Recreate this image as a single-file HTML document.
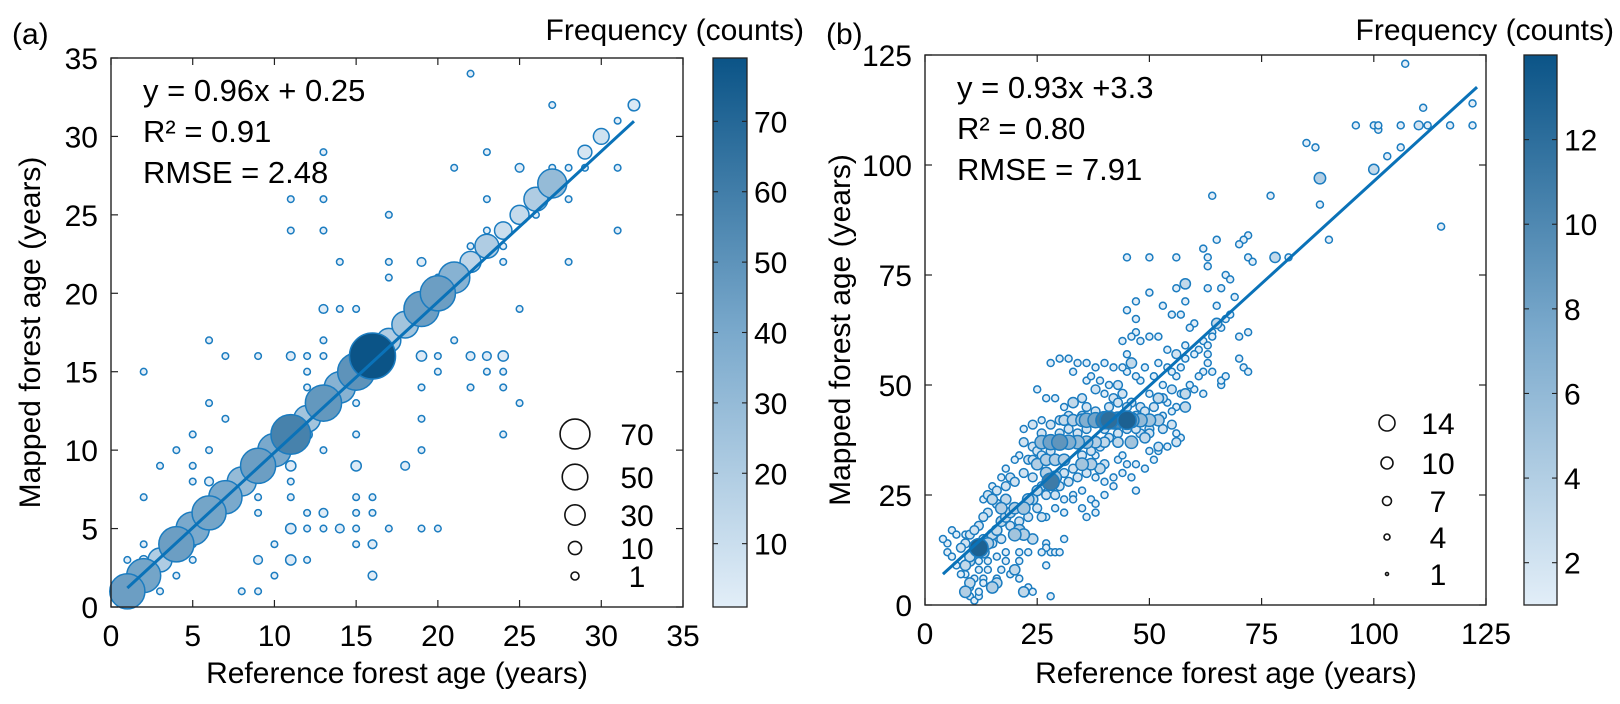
<!DOCTYPE html>
<html><head><meta charset="utf-8"><style>
body{margin:0;background:#fff}
svg{display:block;font-family:"Liberation Sans",Arial,sans-serif}
</style></head><body>
<svg id="fig" width="1620" height="704" viewBox="0 0 1620 704" xmlns="http://www.w3.org/2000/svg">
<defs>
<linearGradient id="cmap" x1="0" y1="1" x2="0" y2="0">
<stop offset="0" stop-color="#e2eef8"/><stop offset="0.5" stop-color="#7aa9cc"/><stop offset="1" stop-color="#0b5487"/>
</linearGradient>
</defs>
<text x="12" y="44" font-size="30">(a)</text>
<text x="826" y="44" font-size="30">(b)</text>
</svg>
<script>
// ---------- Panel (a) data ----------
const aDiagX=[1,2,3,4,5,6,7,8,9,10,11,12,13,14,15,16,17,18,19,20,21,22,23,24,25,26,27,29,30,32];
const aDiagY=[1,2,3,4,5,6,7,8,9,10,11,12,13,14,15,16,17,18,19,20,21,22,23,24,25,26,27,29,30,32];
const aDiagC=[45,42,20,45,40,42,40,30,45,40,58,25,48,35,50,79,20,25,45,45,35,15,20,10,12,20,30,6,8,4];
const aPtsX=[22,27,23,13,21,25,27,28,29,31,11,13,23,28,17,26,11,13,23,31,14,17,19,24,28,22,24,17,20,13,14,15,25,6,13,21,16,2,12,20,23,24,7,9,11,12,13,19,20,22,23,24,12,19,22,24,6,15,25,7,19,11,5,15,24,12,4,6,13,19,3,5,11,15,18,5,6,11,2,9,11,15,16,9,12,13,15,16,11,12,13,14,15,17,19,20,2,5,10,15,16,1,2,5,9,11,12,4,10,16,3,8,9,31];
const aPtsY=[34,32,29,29,28,28,28,28,28,28,26,26,26,26,25,25,24,24,24,24,22,22,22,22,22,23,23,21,21,19,19,19,19,17,17,17,17,15,15,15,15,15,16,16,16,16,16,16,16,16,16,16,14,14,14,14,13,13,13,12,12,12,11,11,11,11,10,10,10,10,9,9,9,9,9,8,8,8,7,7,7,7,7,6,6,6,6,6,5,5,5,5,5,5,5,5,4,4,4,4,4,3,3,3,3,3,3,2,2,2,1,1,1,31];
const aPtsC=[1,1,1,1,1,2,1,1,1,1,1,1,1,1,1,1,1,1,1,1,1,1,2,1,1,1,1,1,1,2,1,1,1,1,1,1,1,1,1,1,1,1,1,1,2,1,1,3,1,2,2,3,1,1,1,1,1,1,1,1,1,1,1,1,1,3,1,1,1,1,1,1,3,3,2,1,2,1,1,1,1,1,1,1,1,2,1,1,3,1,1,2,1,1,1,1,1,1,1,1,2,1,2,1,2,3,1,1,1,2,1,1,1,1];
const aLegVals=[70,50,30,10,1];
const aXTicks=[0,5,10,15,20,25,30,35];
const aYTicks=[0,5,10,15,20,25,30,35];
const aCbTicks=[10,20,30,40,50,60,70];
const aFit=[0.96,0.25,1,32];
// ---------- Panel (b) data ----------
const bPts=[[107,123,1],[111,113,1],[122,114,1],[96,109,1],[100,109,1],[101,108,1],[101,109,1],[106,109,1],[110,109,2],[112,109,1],[117,109,1],[122,109,1],[85,105,1],[87,104,1],[106,104,1],[103,102,1],[100,99,3],[88,97,4],[64,93,1],[77,93,1],[88,91,1],[115,86,1],[90,83,1],[78,79,3],[81,79,1],[72,84,1],[71,83,1],[70,82,1],[65,83,1],[62,81,1],[63,79,1],[63,77,1],[72,79,1],[73,78,1],[45,79,1],[50,79,1],[56,79,1],[53,68,1],[56,72,1],[58,73,3],[58,69,1],[63,72,1],[66,72,1],[67,75,1],[68,74,1],[65,68,1],[69,70,1],[65,64,3],[66,63,1],[67,65,1],[68,66,1],[64,62,1],[60,64,1],[62,60,1],[63,59,1],[64,61,1],[61,58,1],[63,57,1],[60,57,1],[58,56,1],[56,52,1],[54,54,1],[55,53,1],[57,54,1],[53,50,1],[58,48,3],[58,45,3],[56,45,1],[54,46,1],[52,47,3],[50,48,1],[48,51,1],[46,55,3],[45,57,1],[47,62,1],[48,60,1],[50,61,1],[52,61,1],[54,58,1],[52,55,1],[51,52,1],[49,54,1],[47,52,1],[45,53,1],[44,60,1],[46,61,1],[45,67,1],[47,65,1],[47,69,1],[50,71,1],[55,66,1],[57,66,1],[59,63,1],[62,53,1],[64,53,1],[66,50,1],[66,51,1],[70,56,1],[71,54,1],[72,62,1],[70,61,1],[67,52,1],[72,53,1],[62,48,1],[60,49,1],[55,44,1],[53,43,1],[52,42,4],[50,42,5],[48,42,6],[46,42,8],[45,42,13],[43,42,10],[41,42,12],[40,42,11],[38,42,8],[36,42,7],[35,42,5],[33,42,4],[31,42,3],[26,37,6],[28,37,8],[30,37,9],[32,37,7],[34,37,6],[36,37,5],[38,37,4],[40,37,3],[43,37,3],[46,37,5],[49,38,3],[52,36,2],[56,37,2],[28,28,11],[29,29,5],[27,30,4],[25,32,4],[27,33,4],[29,33,4],[31,33,4],[35,32,5],[37,32,4],[39,31,3],[12,13,13],[13,12,4],[11,12,3],[10,10,3],[9,9,3],[10,11,3],[14,14,4],[15,16,3],[16,17,3],[17,19,3],[18,20,3],[19,21,3],[20,22,4],[22,22,5],[23,24,4],[24,24,3],[25,26,3],[21,17,4],[20,16,5],[22,16,4],[24,15,3],[17,22,4],[18,24,3],[15,24,3],[16,23,2],[14,21,2],[12,18,2],[13,20,2],[10,16,2],[11,17,2],[9,14,2],[8,13,2],[5,14,1],[4,15,1],[6,17,1],[7,16,1],[9,16,1],[10,5,3],[9,3,4],[10,2,1],[11,1,1],[12,2,1],[10,4,1],[12,3,1],[13,6,1],[15,4,4],[16,5,3],[16,6,1],[14,8,1],[12,8,1],[18,10,1],[20,8,3],[21,10,1],[21,12,1],[23,12,1],[22,3,3],[23,4,1],[24,3,1],[27,14,1],[28,12,1],[29,12,1],[30,12,1],[27,13,1],[28,2,1],[31,15,1],[26,20,2],[27,20,1],[29,22,1],[31,21,1],[33,25,1],[35,22,1],[38,21,1],[37,24,1],[40,28,1],[42,29,1],[44,30,1],[45,32,1],[40,32,2],[38,34,1],[47,32,1],[47,26,1],[43,33,1],[44,34,1],[50,35,1],[52,35,1],[48,39,2],[47,40,2],[50,40,2],[48,45,2],[46,46,2],[44,48,2],[42,47,2],[40,48,1],[38,49,2],[36,51,1],[33,53,1],[33,46,3],[35,47,2],[31,45,1],[29,47,1],[27,47,1],[25,49,1],[28,55,1],[30,56,1],[32,56,1],[34,55,1],[36,55,1],[38,54,1],[40,55,1],[42,54,1],[44,54,1],[37,52,1],[39,51,1],[41,50,1],[43,50,2],[36,45,2],[38,44,2],[41,45,2],[43,46,2],[45,45,2],[35,43,2],[32,43,2],[30,42,2],[28,41,2],[26,42,1],[24,41,2],[22,40,1],[26,39,2],[22,37,2],[24,36,2],[21,34,1],[23,33,2],[25,35,2],[20,33,1],[18,31,1],[19,29,2],[17,29,1],[15,27,1],[14,25,2],[13,24,1],[16,26,2],[18,27,2],[20,28,2],[22,30,2],[24,29,2],[26,27,2],[30,27,2],[32,28,2],[34,29,2],[36,30,2],[38,29,1],[35,26,1],[33,24,1],[31,24,1],[29,25,2],[27,25,2],[25,22,2],[23,20,2],[21,19,2],[19,18,2],[17,15,2],[15,14,2],[13,15,2],[12,10,1],[14,10,1],[16,11,1],[18,12,1],[11,6,1],[9,7,1],[13,5,1],[17,8,1],[19,7,1],[21,6,1],[26,12,1],[27,9,1],[7,9,1],[8,7,1],[5,12,1],[6,11,1],[31,30,2],[33,31,2],[35,34,2],[37,35,2],[39,36,2],[41,38,2],[43,39,2],[45,40,2],[47,43,2],[49,44,2],[51,45,2],[53,47,2],[55,49,2],[57,48,1],[59,50,1],[61,52,1],[63,55,1],[56,57,2],[58,59,1],[42,41,2],[44,43,2],[34,39,2],[32,40,2],[30,39,2],[28,35,2],[26,34,2],[24,33,2],[40,40,2],[36,40,2],[50,39,2],[53,40,2],[55,41,2],[57,38,1],[56,39,1],[54,36,1],[51,33,1],[49,31,1],[46,29,1],[42,27,1],[40,25,1],[38,23,1],[36,20,1]];
const bLegVals=[14,10,7,4,1];
const bXTicks=[0,25,50,75,100,125];
const bYTicks=[0,25,50,75,100,125];
const bCbTicks=[2,4,6,8,10,12];
const bFit=[0.93,3.3,4,123];

const NS='http://www.w3.org/2000/svg';
const svg=document.getElementById('fig');
const FS=30;
function mk(tag,attrs,parent){const e=document.createElementNS(NS,tag);for(const k in attrs)e.setAttribute(k,attrs[k]);(parent||svg).appendChild(e);return e;}
function lerp(a,b,t){return a+(b-a)*t}
function hex(c){return [parseInt(c.substr(1,2),16),parseInt(c.substr(3,2),16),parseInt(c.substr(5,2),16)]}
const stops=[hex('#e2eef8'),hex('#7aa9cc'),hex('#0b5487')];
function cmap(t){t=Math.max(0,Math.min(1,t));let a,b,u;if(t<0.5){a=stops[0];b=stops[1];u=t/0.5}else{a=stops[1];b=stops[2];u=(t-0.5)/0.5}return 'rgb('+[0,1,2].map(i=>Math.round(lerp(a[i],b[i],u))).join(',')+')'}

function panel(cfg){
  const {L,R,T,B,xmax,ymax,cbL,cbR,cmin,cmax,id,rfun}=cfg;
  const sx=v=>L+(R-L)*v/xmax, sy=v=>B-(B-T)*v/ymax;
  const g=mk('g',{});
  
  
  const marks=mk('g',{},g);
  const pts=cfg.points.slice().sort((a,b)=>a[2]-b[2]);
  pts.forEach(p=>{
    const c=mk('circle',{cx:sx(p[0]),cy:sy(p[1]),r:rfun(p[2]),fill:cmap((p[2]-cmin)/(cmax-cmin)),stroke:'#1b7cc0','stroke-width':1.5},marks);
    
    
  });
  const f=cfg.fit;
  const ln=mk('line',{x1:sx(f[2]),y1:sy(f[0]*f[2]+f[1]),x2:sx(f[3]),y2:sy(f[0]*f[3]+f[1]),stroke:'#0a72b8','stroke-width':3},g);
  
  
  const box=mk('rect',{x:L,y:T,width:R-L,height:B-T,fill:'none',stroke:'#222','stroke-width':1.4},g);
  
  
  cfg.xticks.forEach(v=>{
    const x=sx(v);
    mk('line',{x1:x,y1:B,x2:x,y2:B-7,stroke:'#222','stroke-width':1.2},g);
    mk('line',{x1:x,y1:T,x2:x,y2:T+7,stroke:'#222','stroke-width':1.2},g);
    const t=mk('text',{x:x,y:B+39,'font-size':FS,'text-anchor':'middle'},g);t.textContent=v;
    
    
  });
  cfg.yticks.forEach(v=>{
    const y=sy(v);
    mk('line',{x1:L,y1:y,x2:L+7,y2:y,stroke:'#222','stroke-width':1.2},g);
    mk('line',{x1:R,y1:y,x2:R-7,y2:y,stroke:'#222','stroke-width':1.2},g);
    const t=mk('text',{x:L-13,y:y+11,'font-size':FS,'text-anchor':'end'},g);t.textContent=v;
    
    
  });
  const xt=mk('text',{x:cfg.xtx,y:683,'font-size':FS,'text-anchor':'middle'},g);xt.textContent='Reference forest age (years)';
  
  
  const yc=(T+B)/2;
  const yt=mk('text',{x:cfg.ytx,y:yc,'font-size':FS,'text-anchor':'middle',transform:'rotate(-90 '+cfg.ytx+' '+yc+')'},g);yt.textContent='Mapped forest age (years)';
  
  
  cfg.stats.forEach((s,i)=>{
    const t=mk('text',{x:L+32,y:T+43+i*41,'font-size':31},g);t.textContent=s;
    
    
  });
  cfg.legVals.forEach((v,i)=>{
    const cy=cfg.legY[i];
    const c=mk('circle',{cx:cfg.legCX,cy:cy,r:cfg.legR(v),fill:'#fff',stroke:'#111','stroke-width':1.6},g);
    
    
    const t=mk('text',{x:cfg.legTX,y:cy+11,'font-size':FS,'text-anchor':'middle'},g);t.textContent=v;
    
    
  });
  const cb=mk('rect',{x:cbL,y:T,width:cbR-cbL,height:B-T,fill:'url(#cmap)',stroke:'#222','stroke-width':1.3},g);
  
  
  const cy=v=>B-(B-T)*(v-cmin)/(cmax-cmin);
  cfg.cbticks.forEach(v=>{
    const y=cy(v);
    mk('line',{x1:cbL,y1:y,x2:cbL+5,y2:y,stroke:'#222','stroke-width':1.1},g);
    mk('line',{x1:cbR,y1:y,x2:cbR-5,y2:y,stroke:'#222','stroke-width':1.1},g);
    const t=mk('text',{x:cbR+7,y:y+11,'font-size':FS},g);t.textContent=v;
    
    
  });
  const ct=mk('text',{x:cbR+57,y:40,'font-size':FS,'text-anchor':'end'},g);ct.textContent='Frequency (counts)';
  
  
}

const aPoints=aDiagX.map((x,i)=>[x,aDiagY[i],aDiagC[i]]).concat(aPtsX.map((x,i)=>[x,aPtsY[i],aPtsC[i]]));
panel({id:'panel-a',L:111,R:683,T:58,B:607,xmax:35,ymax:35,cbL:713,cbR:747,cmin:1,cmax:79,
  points:aPoints,rfun:c=>2.5*Math.sqrt(c)+0.8,fit:aFit,xticks:aXTicks,yticks:aYTicks,cbticks:aCbTicks,
  xtx:397,ytx:40,stats:['y = 0.96x + 0.25','R² = 0.91','RMSE = 2.48'],
  legVals:aLegVals,legY:[434,477,515,548,576],legCX:575,legTX:637,legR:v=>Math.sqrt(3*v+13)});
panel({id:'panel-b',L:925,R:1486,T:55,B:605,xmax:125,ymax:125,cbL:1524,cbR:1557,cmin:1,cmax:14,
  points:bPts,rfun:c=>2.2*Math.sqrt(c)+1.3,fit:bFit,xticks:bXTicks,yticks:bYTicks,cbticks:bCbTicks,
  xtx:1226,ytx:850,stats:['y = 0.93x +3.3','R² = 0.80','RMSE = 7.91'],
  legVals:bLegVals,legY:[423,463,501,537,574],legCX:1387,legTX:1438,legR:v=>0.5*v+1});
</script>
</body></html>
